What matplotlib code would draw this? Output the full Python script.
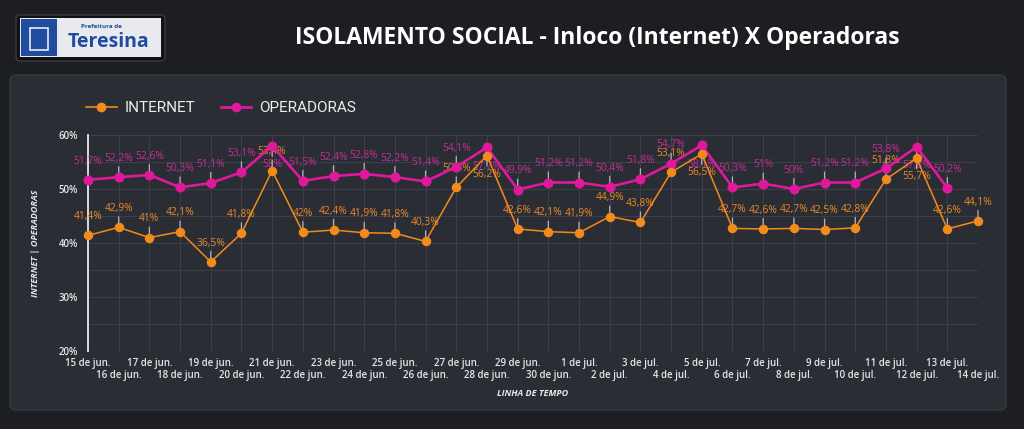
import matplotlib
matplotlib.use("Agg")
import matplotlib.pyplot as plt
from matplotlib.patches import FancyBboxPatch, Rectangle
from matplotlib.lines import Line2D
from matplotlib.transforms import IdentityTransform

# ---------------- data ----------------
dates = ["15 de jun.", "16 de jun.", "17 de jun.", "18 de jun.", "19 de jun.",
         "20 de jun.", "21 de jun.", "22 de jun.", "23 de jun.", "24 de jun.",
         "25 de jun.", "26 de jun.", "27 de jun.", "28 de jun.", "29 de jun.",
         "30 de jun.", "1 de jul.", "2 de jul.", "3 de jul.", "4 de jul.",
         "5 de jul.", "6 de jul.", "7 de jul.", "8 de jul.", "9 de jul.",
         "10 de jul.", "11 de jul.", "12 de jul.", "13 de jul.", "14 de jul."]
internet = [41.4, 42.9, 41.0, 42.1, 36.5, 41.8, 53.4, 42.0, 42.4, 41.9,
            41.8, 40.3, 50.3, 56.2, 42.6, 42.1, 41.9, 44.9, 43.8, 53.1,
            56.5, 42.7, 42.6, 42.7, 42.5, 42.8, 51.8, 55.7, 42.6, 44.1]
operadoras = [51.7, 52.2, 52.6, 50.3, 51.1, 53.1, 58.0, 51.5, 52.4, 52.8,
              52.2, 51.4, 54.1, 57.7, 49.9, 51.2, 51.2, 50.4, 51.8, 54.7,
              58.1, 50.3, 51.0, 50.0, 51.2, 51.2, 53.8, 57.8, 50.2]
y_ticks = [20, 30, 40, 50, 60]
y_tick_labels = ["20%", "30%", "40%", "50%", "60%"]
series_names = ["INTERNET", "OPERADORAS"]

# ---------------- style ----------------
W, H = 1024, 429
BG = "#1d1e22"
PANEL = "#2b2d35"
ORANGE = "#f28a1c"
PINK = "#e0189b"
ORANGE_TXT = "#e8892a"
PINK_TXT = "#c42d93"
GRID = "#3c3f48"
FONT = "Open Sans"

fig = plt.figure(figsize=(W / 100, H / 100), dpi=100)
fig.patch.set_facecolor(BG)


def fx(x):
    return x / W


def fy(y):
    return 1 - y / H


def pix(x, y):
    return (x, H - y)


# panel
fig.patches.append(FancyBboxPatch(pix(10, 410), 996, 335,
                                  boxstyle="round,pad=0,rounding_size=6",
                                  transform=IdentityTransform(),
                                  fc=PANEL, ec="#363841", lw=1, zorder=-5))

# logo
fig.patches.append(FancyBboxPatch(pix(16, 61), 149, 46,
                                  boxstyle="round,pad=0,rounding_size=4",
                                  transform=IdentityTransform(),
                                  fc="#111215", ec="#3a3b40", lw=1, zorder=1))
fig.patches.append(Rectangle(pix(20, 57), 141, 39, transform=IdentityTransform(),
                             fc="#e9eaf0", ec="none", zorder=2))
fig.patches.append(Rectangle(pix(21, 56), 36, 37, transform=IdentityTransform(),
                             fc="#1f4c9e", ec="none", zorder=3))
fig.patches.append(Rectangle(pix(30, 50), 18, 22, transform=IdentityTransform(),
                             fc="none", ec="#e8ecf5", lw=1.2, zorder=4))
fig.text(fx(101), fy(27), "Prefeitura de", fontsize=4.5, color="#1f4c9e",
         family=FONT, fontweight="bold", ha="center", va="center", zorder=5)
fig.text(fx(108), fy(42), "Teresina", fontsize=14, color="#1f4c9e",
         family=FONT, fontweight="bold", ha="center", va="center", zorder=5)

# title
fig.text(fx(597), fy(38), "ISOLAMENTO SOCIAL - Inloco (Internet) X Operadoras",
         fontsize=16.5, color="white", family=FONT, fontweight="bold",
         ha="center", va="center")

# axes
ax = fig.add_axes([fx(88), fy(351), 890 / W, 216 / H])
ax.set_zorder(10)
ax.set_facecolor("none")
x_i = list(range(len(internet)))
x_o = list(range(len(operadoras)))

ax.plot(x_o, operadoras, color=PINK, lw=1.9, marker="o", ms=6.2,
        clip_on=False, zorder=4)
ax.plot(x_i, internet, color=ORANGE, lw=1.1, marker="o", ms=5.8,
        clip_on=False, zorder=5)


def fmt(v):
    s = ("%.1f" % v).replace(".", ",")
    if s.endswith(",0"):
        s = s[:-2]
    return s + "%"


def labels(xs, vals, color):
    for x, v in zip(xs, vals):
        below = v > 55.5
        off = -13.5 if below else 13.5
        ax.annotate(fmt(v), xy=(x, v), xytext=(0, off),
                    textcoords="offset points", ha="center", va="center",
                    fontsize=7.4, color=color, family=FONT, zorder=3,
                    annotation_clip=False,
                    arrowprops=dict(arrowstyle="-", color="#c9ccd3", lw=0.9,
                                    shrinkA=0, shrinkB=2, alpha=0.85))


labels(x_o, operadoras, PINK_TXT)
labels(x_i, internet, ORANGE_TXT)

ax.set_xlim(0, len(dates) - 1)
ax.set_ylim(20, 60)
ax.set_yticks(y_ticks, labels=y_tick_labels)
ax.set_yticks([25, 35, 45, 55], minor=True)
ax.set_xticks(list(range(0, len(dates), 2)), labels=dates[0::2])
ax.set_xticks(list(range(1, len(dates), 2)), labels=dates[1::2], minor=True)
ax.grid(True, which="both", color=GRID, lw=0.8, zorder=0)
ax.set_axisbelow(True)
for s in ["top", "right", "bottom"]:
    ax.spines[s].set_visible(False)
ax.spines["left"].set_color("#e8e8e8")
ax.spines["left"].set_linewidth(1.3)
ax.tick_params(axis="both", which="both", length=0, colors="#e6e6e6")
ax.tick_params(axis="y", pad=7)
ax.tick_params(axis="x", which="major", pad=5)
ax.tick_params(axis="x", which="minor", pad=14)
for lab in ax.get_xticklabels(which="both") + ax.get_yticklabels():
    lab.set_fontsize(7)
    lab.set_family(FONT)
    lab.set_fontweight("semibold")

# axis titles
fig.text(fx(35), fy(243), "INTERNET | OPERADORAS", rotation=90, fontsize=6.5,
         color="#e6e6e6", family=FONT, fontweight="bold", style="italic",
         ha="center", va="center")
fig.text(fx(533), fy(394), "LINHA DE TEMPO", fontsize=6.5, color="#e6e6e6",
         family=FONT, fontweight="bold", style="italic", ha="center", va="center")

# legend
handles = [Line2D([], [], color=ORANGE, lw=1.2, marker="o", ms=6),
           Line2D([], [], color=PINK, lw=2.0, marker="o", ms=6)]
leg = fig.legend(handles, series_names, loc="center left",
                 bbox_to_anchor=(fx(86), fy(108)), ncol=2, frameon=False,
                 borderpad=0, borderaxespad=0, handlelength=2.0,
                 handletextpad=0.5, columnspacing=1.7,
                 prop={"family": "Roboto", "size": 11})
for t in leg.get_texts():
    t.set_color("#eeeeee")

fig.savefig("out.png", dpi=100, facecolor=BG)
